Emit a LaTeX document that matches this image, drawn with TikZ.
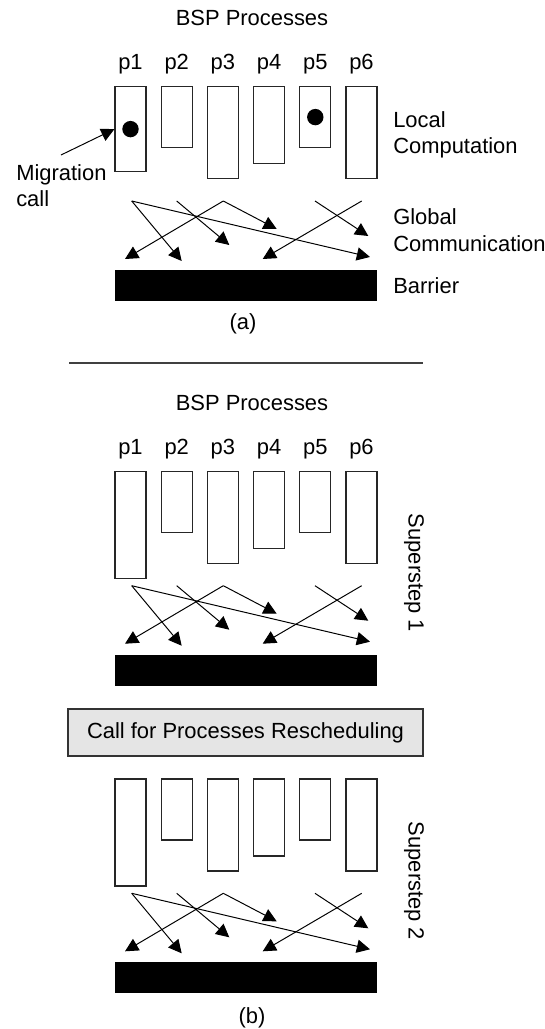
\documentclass[tikz,border=0pt]{standalone}
\usepackage{fontspec}
\setmainfont{Liberation Sans}
\usetikzlibrary{arrows.meta}

\newcommand{\procrow}[3]{%
    \foreach \i/\h in {1/#3,2/61,3/92,4/77,5/61,6/92}
        \node[proc, minimum height=\h*0.25mm] (#2\i) at (84.3+46.2*\i,#1) {};
}

\newcommand{\commround}[2]{%
    \foreach \sx/\ex/\ey [count=\k] in {131.7/181.7/60, 131.7/370/56, 176.7/229.3/44,
            223.3/276.7/28, 223.3/125/58, 315/368.3/35, 361.7/262.7/58} {
        \coordinate (#2from\k) at (\sx,#1);
        \coordinate (#2to\k) at (\ex,#1+\ey);
        \draw[msg] (#2from\k) -- (#2to\k);
    }
    \node[barrier] (#2bar) at (246,#1+84.5) {};
}

\begin{document}
\begin{tikzpicture}[x=0.25mm, y=-0.25mm, font=\fontsize{15.6}{18.8}\selectfont,
    proc/.style={draw=black!85, line width=0.85pt, minimum width=7.75mm, inner sep=0pt, anchor=north},
    msg/.style={-{Triangle[length=3.3mm,width=3.3mm]}, line width=0.7pt},
    barrier/.style={fill=black, minimum width=65.5mm, minimum height=7.75mm, inner sep=0pt},
    dot/.style={circle, fill=black, inner sep=0pt, minimum size=4.1mm},
    lbl/.style={inner sep=0pt},
    side/.style={inner sep=0pt, anchor=west, align=left},
    callbox/.style={draw=black!80, fill=black!10, line width=1pt, minimum width=88.75mm, minimum height=11.75mm}]

    \useasboundingbox (0,0) rectangle (545,1029);

    \node[lbl] (titlea) at (252,17.5) {BSP Processes};
    \procrow{86}{a}{85}
    \foreach \i in {1,...,6}
        \node[lbl] (pa\i) at (84.3+46.2*\i,64) {p\i};
    \commround{201}{a}

    \node[dot] (mig1) at (a1) {};
    \node[dot] (mig5) at (a5) {};
    \node[side] (migtext) at (16,185.7) {Migration\\call};
    \coordinate (migfrom) at (61,155);
    \draw[msg] (migfrom) -- (a1.west);

    \node[side] (local) at (393,135) {Local\\Computation};
    \node[side] (global) at (393,230) {Global\\Communication};
    \node[side] (barriertext) at (393,286) {Barrier};
    \node[lbl] (capa) at (243,324) {(a)};

    \coordinate (sepl) at (69,363);
    \coordinate (sepr) at (423,363);
    \draw[line width=1pt, black!75] (sepl) -- (sepr);

    \node[lbl] (titleb) at (252,402.5) {BSP Processes};
    \procrow{471}{b}{107}
    \foreach \i in {1,...,6}
        \node[lbl] (pb\i) at (84.3+46.2*\i,449) {p\i};
    \commround{585.7}{b}
    \node[lbl, rotate=-90] (step1) at (414,573) {Superstep 1};

    \node[callbox] (call) at (245.5,732.5) {Call for Processes Rescheduling};

    \procrow{778.3}{c}{107}
    \commround{893.3}{c}
    \node[lbl, rotate=-90] (step2) at (414,881) {Superstep 2};
    \node[lbl] (capb) at (252,1018) {(b)};

\end{tikzpicture}
\end{document}
